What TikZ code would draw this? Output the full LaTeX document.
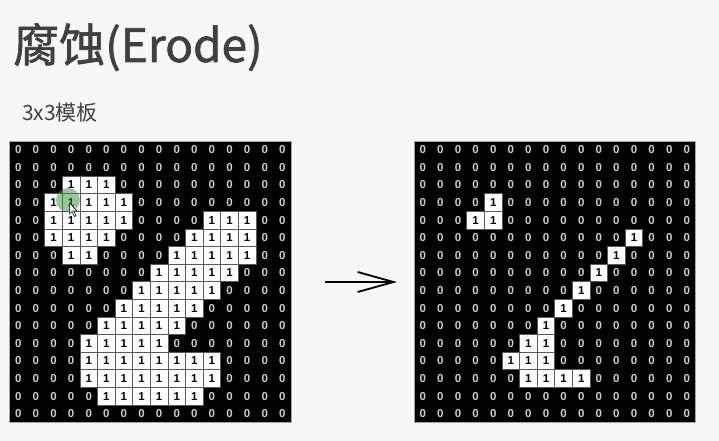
\documentclass[tikz,border=0pt]{standalone}
\usepackage{fontspec}
\newfontfamily\cjkfont{Noto Sans CJK SC}
\newfontfamily\titlefont[FakeBold=1.4]{Noto Sans CJK SC}
\newfontfamily\bitfont{Liberation Sans}
\usetikzlibrary{arrows.meta}

\def\cellSize{17.6}
\def\gridTop{141}

\tikzset{
  bit0/.style={minimum size=\cellSize pt, inner sep=0pt, text=white!80!black,
    font=\bitfont\bfseries\fontsize{11.5}{11.5}\selectfont},
  bit1/.style={bit0, fill=white, draw=black!65, line width=0.7pt, text=black},
  heading/.style={anchor=base west, inner sep=0pt, text=black!75},
}

\begin{document}
\begin{tikzpicture}[x=1pt, y=-1pt]
  \useasboundingbox[fill=white!97!black] (0,0) rectangle (719,441);
  %% title and template label
  \node[heading] (title) at (13,62) {\titlefont\fontsize{46}{46}\selectfont 腐蚀(Erode)};
  \node[heading] (template) at (22,121) {\cjkfont\fontsize{21}{21}\selectfont 3x3模板};

  %% left grid (source)
  \fill[black] (9.5,\gridTop) rectangle ++(16*\cellSize,16*\cellSize);
  \draw[black!35, line width=0.6pt] (9.5,\gridTop) rectangle ++(16*\cellSize,16*\cellSize);
  \foreach \rowdata [count=\r from 0] in {
    {0,0,0,0,0,0,0,0,0,0,0,0,0,0,0,0},
    {0,0,0,0,0,0,0,0,0,0,0,0,0,0,0,0},
    {0,0,0,1,1,1,0,0,0,0,0,0,0,0,0,0},
    {0,0,1,1,1,1,1,0,0,0,0,0,0,0,0,0},
    {0,0,1,1,1,1,1,0,0,0,0,1,1,1,0,0},
    {0,0,1,1,1,1,0,0,0,0,1,1,1,1,0,0},
    {0,0,0,1,1,0,0,0,0,1,1,1,1,1,0,0},
    {0,0,0,0,0,0,0,0,1,1,1,1,1,0,0,0},
    {0,0,0,0,0,0,0,1,1,1,1,1,0,0,0,0},
    {0,0,0,0,0,0,1,1,1,1,1,0,0,0,0,0},
    {0,0,0,0,0,1,1,1,1,1,0,0,0,0,0,0},
    {0,0,0,0,1,1,1,1,1,0,0,0,0,0,0,0},
    {0,0,0,0,1,1,1,1,1,1,1,1,0,0,0,0},
    {0,0,0,0,1,1,1,1,1,1,1,1,0,0,0,0},
    {0,0,0,0,0,1,1,1,1,1,1,0,0,0,0,0},
    {0,0,0,0,0,0,0,0,0,0,0,0,0,0,0,0}}
  {
    \foreach \v [count=\c from 0] in \rowdata {
      \node[bit\v] (L-\r-\c) at ({9.5+(\c+0.5)*\cellSize},{\gridTop+(\r+0.5)*\cellSize}) {\v};
    }
  }

  %% ...pointer highlight
  \fill[green!45!black!80, opacity=0.5] (68,200) circle (12);
  \draw[fill=white, line width=0.5pt] (69.5,203) -- ++(0,11) -- ++(2.5,-2.5) -- ++(2.5,5)
    -- ++(1.5,-0.8) -- ++(-2.5,-4.8) -- ++(3.5,0) -- cycle;

  %% right grid (eroded)
  \fill[black] (414,\gridTop) rectangle ++(16*\cellSize,16*\cellSize);
  \draw[black!35, line width=0.6pt] (414,\gridTop) rectangle ++(16*\cellSize,16*\cellSize);
  \foreach \rowdata [count=\r from 0] in {
    {0,0,0,0,0,0,0,0,0,0,0,0,0,0,0,0},
    {0,0,0,0,0,0,0,0,0,0,0,0,0,0,0,0},
    {0,0,0,0,0,0,0,0,0,0,0,0,0,0,0,0},
    {0,0,0,0,1,0,0,0,0,0,0,0,0,0,0,0},
    {0,0,0,1,1,0,0,0,0,0,0,0,0,0,0,0},
    {0,0,0,0,0,0,0,0,0,0,0,0,1,0,0,0},
    {0,0,0,0,0,0,0,0,0,0,0,1,0,0,0,0},
    {0,0,0,0,0,0,0,0,0,0,1,0,0,0,0,0},
    {0,0,0,0,0,0,0,0,0,1,0,0,0,0,0,0},
    {0,0,0,0,0,0,0,0,1,0,0,0,0,0,0,0},
    {0,0,0,0,0,0,0,1,0,0,0,0,0,0,0,0},
    {0,0,0,0,0,0,1,1,0,0,0,0,0,0,0,0},
    {0,0,0,0,0,1,1,1,0,0,0,0,0,0,0,0},
    {0,0,0,0,0,0,1,1,1,1,0,0,0,0,0,0},
    {0,0,0,0,0,0,0,0,0,0,0,0,0,0,0,0},
    {0,0,0,0,0,0,0,0,0,0,0,0,0,0,0,0}}
  {
    \foreach \v [count=\c from 0] in \rowdata {
      \node[bit\v] (R-\r-\c) at ({414+(\c+0.5)*\cellSize},{\gridTop+(\r+0.5)*\cellSize}) {\v};
    }
  }

  %% arrow between the grids
  \coordinate (arrowtail) at (325,282);
  \coordinate (arrowtip) at (397,282);
  \draw[line width=1.8pt, -{Straight Barb[length=36pt, width=20pt]}] (arrowtail) -- (arrowtip);
\end{tikzpicture}
\end{document}
